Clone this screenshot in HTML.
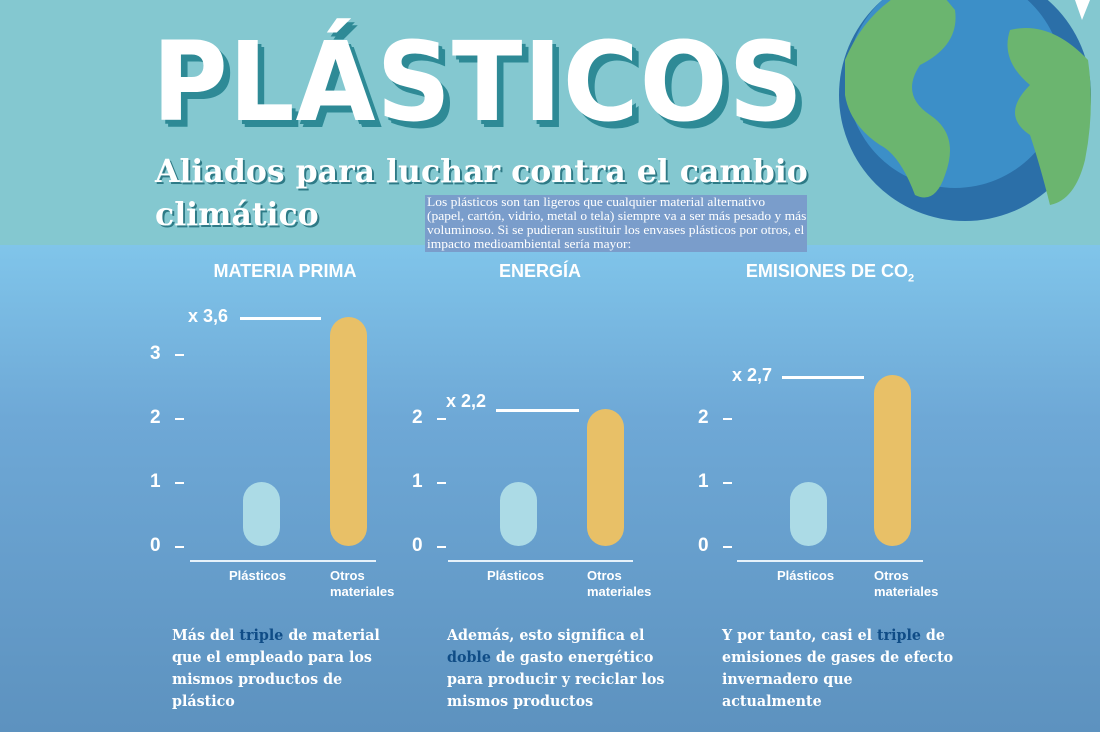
<!DOCTYPE html>
<html><head><meta charset="utf-8"><style>
*{margin:0;padding:0;box-sizing:border-box}
body{width:1100px;height:732px;overflow:hidden;position:relative;font-family:"Liberation Sans",sans-serif;background:linear-gradient(#80c5ea 245px,#6ea8d6 420px,#5d92bf 732px)}
.top{position:absolute;left:0;top:0;width:1100px;height:245px;background:#84c8d0}
.t{position:absolute;color:#fff;white-space:nowrap}
.title{left:152px;top:18px;font-size:110px;font-weight:bold;letter-spacing:1px;text-shadow:4px 4px 0 #2e8a96,7px 7px 0 #2e8a96;font-family:"DejaVu Sans",sans-serif;transform:scaleX(0.94);transform-origin:left}
.sub{left:155px;font-size:32px;font-weight:bold;font-family:"DejaVu Serif",serif;text-shadow:2px 2px 0 #2e7a86;transform:scaleX(0.985);transform-origin:left}
.box{position:absolute;left:425px;top:195px;width:382px;height:57px;background:#7a9dcb;color:#fff;font-family:"Liberation Serif",serif;font-size:12.5px;line-height:14px;padding:0 2px;white-space:nowrap}
.box span{display:block;transform:scaleX(1.08);transform-origin:left}
.h{position:absolute;top:261px;color:#fff;font-weight:bold;font-size:18px;text-align:center}
.n{position:absolute;color:#fff;font-weight:bold;font-size:19px}
.tk{position:absolute;width:9px;height:2px;background:#fff}
.bar{position:absolute;width:37px;border-radius:19px}
.p{background:#acdbe6}.o{background:#e8c067}
.ln{position:absolute;height:3px;background:#fff}
.base{position:absolute;height:2px;background:#e6f2fa;top:560px}
.lab{position:absolute;color:#fff;font-weight:bold;font-size:13px;line-height:16px;top:568px}
.par{position:absolute;top:624px;color:#fff;font-family:"DejaVu Serif",serif;font-size:15px;font-weight:bold;line-height:22px;white-space:nowrap;transform:scaleX(0.95);transform-origin:left}
.par b{color:#0f4c86}
</style></head><body>
<div class="top"></div>
<svg style="position:absolute;left:0;top:0" width="1100" height="260">
<circle cx="965" cy="95" r="126" fill="#2b6fa8"/>
<circle cx="955" cy="80" r="108" fill="#3c8fc8"/>
<path d="M845 60 Q870 0 930 -20 L955 10 Q960 45 920 65 Q900 95 930 115 Q960 135 945 175 Q935 205 915 195 Q900 155 880 145 Q850 125 845 95Z" fill="#6bb56f"/>
<path d="M1010 30 Q1050 20 1088 60 Q1095 110 1085 160 Q1075 200 1050 205 Q1040 165 1030 135 Q1000 115 1030 85 Q1000 60 1010 30Z" fill="#6bb56f"/>
<path d="M1075 0 L1090 0 L1082 20Z" fill="#fff"/>
</svg>
<div class="t title">PLÁSTICOS</div>
<div class="t sub" style="top:152px">Aliados para luchar contra el cambio</div>
<div class="t sub" style="top:195px">climático</div>
<div class="box"><span>Los plásticos son tan ligeros que cualquier material alternativo</span><span>(papel, cartón, vidrio, metal o tela) siempre va a ser más pesado y más</span><span>voluminoso. Si se pudieran sustituir los envases plásticos por otros, el</span><span>impacto medioambiental sería mayor:</span></div>

<div class="h" style="left:185px;width:200px">MATERIA PRIMA</div>
<div class="h" style="left:460px;width:160px">ENERGÍA</div>
<div class="h" style="left:730px;width:200px">EMISIONES DE CO<sub style="font-size:11px">2</sub></div>

<div class="n" style="left:150px;top:343px">3</div><div class="tk" style="left:175px;top:354px"></div>
<div class="n" style="left:150px;top:407px">2</div><div class="tk" style="left:175px;top:418px"></div>
<div class="n" style="left:150px;top:471px">1</div><div class="tk" style="left:175px;top:482px"></div>
<div class="n" style="left:150px;top:535px">0</div><div class="tk" style="left:175px;top:546px"></div>
<div class="bar p" style="left:243px;top:482px;height:64px"></div>
<div class="bar o" style="left:330px;top:317px;height:229px"></div>
<div class="n" style="left:188px;top:306px;font-size:18px">x 3,6</div><div class="ln" style="left:240px;top:317px;width:81px"></div>
<div class="base" style="left:190px;width:186px"></div>
<div class="lab" style="left:229px">Plásticos</div><div class="lab" style="left:330px">Otros<br>materiales</div>

<div class="n" style="left:412px;top:407px">2</div><div class="tk" style="left:437px;top:418px"></div>
<div class="n" style="left:412px;top:471px">1</div><div class="tk" style="left:437px;top:482px"></div>
<div class="n" style="left:412px;top:535px">0</div><div class="tk" style="left:437px;top:546px"></div>
<div class="bar p" style="left:500px;top:482px;height:64px"></div>
<div class="bar o" style="left:587px;top:409px;height:137px"></div>
<div class="n" style="left:446px;top:391px;font-size:18px">x 2,2</div><div class="ln" style="left:496px;top:409px;width:83px"></div>
<div class="base" style="left:448px;width:185px"></div>
<div class="lab" style="left:487px">Plásticos</div><div class="lab" style="left:587px">Otros<br>materiales</div>

<div class="n" style="left:698px;top:407px">2</div><div class="tk" style="left:723px;top:418px"></div>
<div class="n" style="left:698px;top:471px">1</div><div class="tk" style="left:723px;top:482px"></div>
<div class="n" style="left:698px;top:535px">0</div><div class="tk" style="left:723px;top:546px"></div>
<div class="bar p" style="left:790px;top:482px;height:64px"></div>
<div class="bar o" style="left:874px;top:375px;height:171px"></div>
<div class="n" style="left:732px;top:365px;font-size:18px">x 2,7</div><div class="ln" style="left:782px;top:376px;width:82px"></div>
<div class="base" style="left:737px;width:186px"></div>
<div class="lab" style="left:777px">Plásticos</div><div class="lab" style="left:874px">Otros<br>materiales</div>

<div class="par" style="left:172px">Más del <b>triple</b> de material<br>que el empleado para los<br>mismos productos de<br>plástico</div>
<div class="par" style="left:447px">Además, esto significa el<br><b>doble</b> de gasto energético<br>para producir y reciclar los<br>mismos productos</div>
<div class="par" style="left:722px">Y por tanto, casi el <b>triple</b> de<br>emisiones de gases de efecto<br>invernadero que<br>actualmente</div>
</body></html>
